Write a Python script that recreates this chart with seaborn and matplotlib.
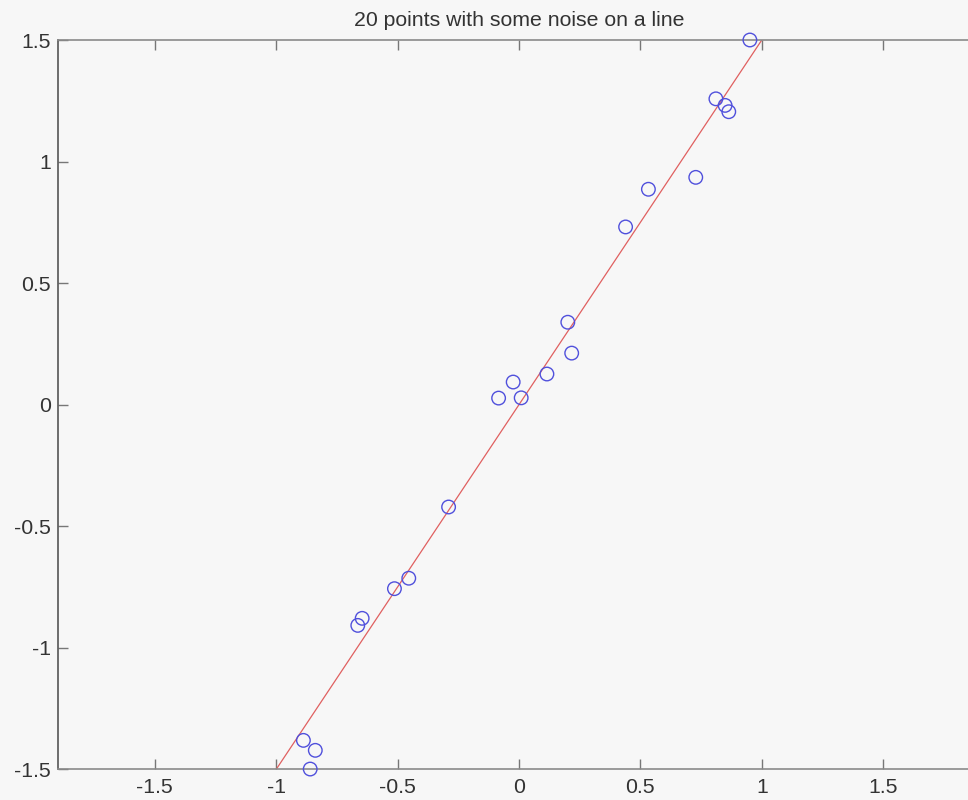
import matplotlib
matplotlib.use("Agg")
import matplotlib.pyplot as plt
import seaborn as sns
import numpy as np

# data
x_pts = [0.951, 0.811, 0.849, 0.864, 0.728, 0.533, 0.439, 0.201, 0.217, 0.115,
         -0.024, -0.084, 0.009, -0.290, -0.454, -0.513, -0.646, -0.664, -0.888,
         -0.839, -0.860]
y_pts = [1.500, 1.258, 1.231, 1.205, 0.935, 0.886, 0.731, 0.339, 0.212, 0.126,
         0.093, 0.027, 0.028, -0.421, -0.714, -0.757, -0.879, -0.908, -1.381,
         -1.422, -1.499]
line_x = [-1.0, 1.0]
line_y = [-1.5, 1.5]
xticks = [-1.5, -1, -0.5, 0, 0.5, 1, 1.5]
xtick_labels = ["-1.5", "-1", "-0.5", "0", "0.5", "1", "1.5"]
yticks = [-1.5, -1, -0.5, 0, 0.5, 1, 1.5]
ytick_labels = ["-1.5", "-1", "-0.5", "0", "0.5", "1", "1.5"]
title = "20 points with some noise on a line"

sns.set_style("white")
plt.rcParams["font.family"] = ["Liberation Sans", "DejaVu Sans"]
plt.rcParams["axes.unicode_minus"] = False

bg = "#f7f7f7"
fig = plt.figure(figsize=(9.68, 8.0), dpi=100, facecolor=bg)
ax = fig.add_axes([57.7 / 968, 30.7 / 800, 922.6 / 968, 729.3 / 800])
ax.set_facecolor(bg)

sns.lineplot(x=line_x, y=line_y, ax=ax, color="#e06060", linewidth=0.9,
             sort=False, zorder=2)
sns.scatterplot(x=x_pts, y=y_pts, ax=ax, marker="o", s=95,
                facecolors="none", edgecolors="#5050dc", linewidths=1.0,
                zorder=3, clip_on=False)

ax.set_xlim(-1.9, 1.9)
ax.set_ylim(-1.5, 1.5)
ax.set_xticks(xticks)
ax.set_xticklabels(xtick_labels)
ax.set_yticks(yticks)
ax.set_yticklabels(ytick_labels)

ax.tick_params(direction="in", length=7, width=1, colors="#777777",
               labelsize=15.3, top=True, bottom=True, left=True, right=False)
ax.tick_params(axis="x", pad=6)
ax.tick_params(axis="y", pad=5)
for t in ax.get_xticklabels() + ax.get_yticklabels():
    t.set_color("#333333")

for side in ["top", "bottom"]:
    ax.spines[side].set_color("#8a8a8a")
    ax.spines[side].set_linewidth(1.2)
ax.spines["left"].set_color("#555555")
ax.spines["left"].set_linewidth(1.2)
ax.spines["right"].set_visible(False)

ax.set_title(title, fontsize=15.3, color="#333333", pad=10)

fig.savefig("out.png", dpi=100, facecolor=bg)
